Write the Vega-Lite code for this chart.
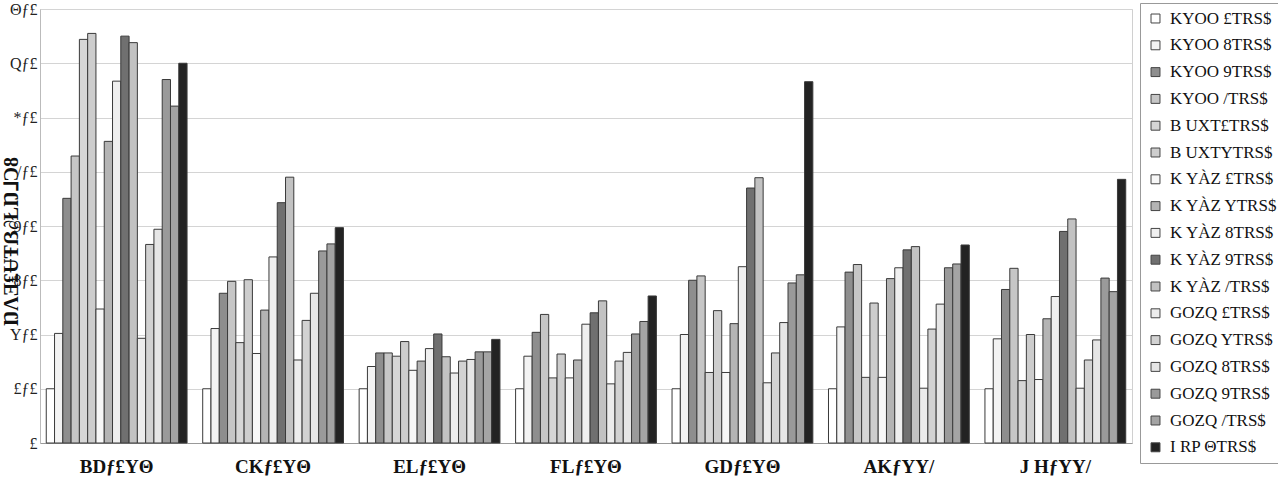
{
  "$schema": "https://vega.github.io/schema/vega-lite/v6.json",
  "autosize": {"type": "none"},
  "width": 1092,
  "height": 434,
  "padding": {"left": 40, "top": 9, "right": 146, "bottom": 37},
  "background": "white",
  "config": {
    "view": {"stroke": "#d0d0d0"},
    "font": "Liberation Serif"
  },
  "data": {"values": [
    {"g":"BDƒ£YΘ","s":"KYOO £TRS$","v":10},{"g":"BDƒ£YΘ","s":"KYOO 8TRS$","v":20.2},{"g":"BDƒ£YΘ","s":"KYOO 9TRS$","v":45.1},{"g":"BDƒ£YΘ","s":"KYOO /TRS$","v":52.9},{"g":"BDƒ£YΘ","s":"B UXT£TRS$","v":74.4},{"g":"BDƒ£YΘ","s":"B UXTYTRS$","v":75.5},{"g":"BDƒ£YΘ","s":"K YÀZ £TRS$","v":24.7},{"g":"BDƒ£YΘ","s":"K YÀZ YTRS$","v":55.6},{"g":"BDƒ£YΘ","s":"K YÀZ 8TRS$","v":66.7},{"g":"BDƒ£YΘ","s":"K YÀZ 9TRS$","v":75},{"g":"BDƒ£YΘ","s":"K YÀZ /TRS$","v":73.8},{"g":"BDƒ£YΘ","s":"GOZQ £TRS$","v":19.3},{"g":"BDƒ£YΘ","s":"GOZQ YTRS$","v":36.6},{"g":"BDƒ£YΘ","s":"GOZQ 8TRS$","v":39.4},{"g":"BDƒ£YΘ","s":"GOZQ 9TRS$","v":67},{"g":"BDƒ£YΘ","s":"GOZQ /TRS$","v":62.1},{"g":"BDƒ£YΘ","s":"I RP ΘTRS$","v":70},
    {"g":"CKƒ£YΘ","s":"KYOO £TRS$","v":10},{"g":"CKƒ£YΘ","s":"KYOO 8TRS$","v":21.1},{"g":"CKƒ£YΘ","s":"KYOO 9TRS$","v":27.6},{"g":"CKƒ£YΘ","s":"KYOO /TRS$","v":29.8},{"g":"CKƒ£YΘ","s":"B UXT£TRS$","v":18.5},{"g":"CKƒ£YΘ","s":"B UXTYTRS$","v":30.1},{"g":"CKƒ£YΘ","s":"K YÀZ £TRS$","v":16.5},{"g":"CKƒ£YΘ","s":"K YÀZ YTRS$","v":24.5},{"g":"CKƒ£YΘ","s":"K YÀZ 8TRS$","v":34.3},{"g":"CKƒ£YΘ","s":"K YÀZ 9TRS$","v":44.3},{"g":"CKƒ£YΘ","s":"K YÀZ /TRS$","v":49},{"g":"CKƒ£YΘ","s":"GOZQ £TRS$","v":15.3},{"g":"CKƒ£YΘ","s":"GOZQ YTRS$","v":22.6},{"g":"CKƒ£YΘ","s":"GOZQ 8TRS$","v":27.6},{"g":"CKƒ£YΘ","s":"GOZQ 9TRS$","v":35.4},{"g":"CKƒ£YΘ","s":"GOZQ /TRS$","v":36.7},{"g":"CKƒ£YΘ","s":"I RP ΘTRS$","v":39.7},
    {"g":"ELƒ£YΘ","s":"KYOO £TRS$","v":10},{"g":"ELƒ£YΘ","s":"KYOO 8TRS$","v":14.1},{"g":"ELƒ£YΘ","s":"KYOO 9TRS$","v":16.6},{"g":"ELƒ£YΘ","s":"KYOO /TRS$","v":16.6},{"g":"ELƒ£YΘ","s":"B UXT£TRS$","v":16},{"g":"ELƒ£YΘ","s":"B UXTYTRS$","v":18.7},{"g":"ELƒ£YΘ","s":"K YÀZ £TRS$","v":13.4},{"g":"ELƒ£YΘ","s":"K YÀZ YTRS$","v":15.1},{"g":"ELƒ£YΘ","s":"K YÀZ 8TRS$","v":17.4},{"g":"ELƒ£YΘ","s":"K YÀZ 9TRS$","v":20.1},{"g":"ELƒ£YΘ","s":"K YÀZ /TRS$","v":15.9},{"g":"ELƒ£YΘ","s":"GOZQ £TRS$","v":12.9},{"g":"ELƒ£YΘ","s":"GOZQ YTRS$","v":15.1},{"g":"ELƒ£YΘ","s":"GOZQ 8TRS$","v":15.4},{"g":"ELƒ£YΘ","s":"GOZQ 9TRS$","v":16.8},{"g":"ELƒ£YΘ","s":"GOZQ /TRS$","v":16.8},{"g":"ELƒ£YΘ","s":"I RP ΘTRS$","v":19.1},
    {"g":"FLƒ£YΘ","s":"KYOO £TRS$","v":10},{"g":"FLƒ£YΘ","s":"KYOO 8TRS$","v":16},{"g":"FLƒ£YΘ","s":"KYOO 9TRS$","v":20.4},{"g":"FLƒ£YΘ","s":"KYOO /TRS$","v":23.7},{"g":"FLƒ£YΘ","s":"B UXT£TRS$","v":12},{"g":"FLƒ£YΘ","s":"B UXTYTRS$","v":16.4},{"g":"FLƒ£YΘ","s":"K YÀZ £TRS$","v":12},{"g":"FLƒ£YΘ","s":"K YÀZ YTRS$","v":15.3},{"g":"FLƒ£YΘ","s":"K YÀZ 8TRS$","v":21.9},{"g":"FLƒ£YΘ","s":"K YÀZ 9TRS$","v":24},{"g":"FLƒ£YΘ","s":"K YÀZ /TRS$","v":26.2},{"g":"FLƒ£YΘ","s":"GOZQ £TRS$","v":10.9},{"g":"FLƒ£YΘ","s":"GOZQ YTRS$","v":15.1},{"g":"FLƒ£YΘ","s":"GOZQ 8TRS$","v":16.7},{"g":"FLƒ£YΘ","s":"GOZQ 9TRS$","v":20.1},{"g":"FLƒ£YΘ","s":"GOZQ /TRS$","v":22.4},{"g":"FLƒ£YΘ","s":"I RP ΘTRS$","v":27.1},
    {"g":"GDƒ£YΘ","s":"KYOO £TRS$","v":10},{"g":"GDƒ£YΘ","s":"KYOO 8TRS$","v":20},{"g":"GDƒ£YΘ","s":"KYOO 9TRS$","v":30},{"g":"GDƒ£YΘ","s":"KYOO /TRS$","v":30.8},{"g":"GDƒ£YΘ","s":"B UXT£TRS$","v":13},{"g":"GDƒ£YΘ","s":"B UXTYTRS$","v":24.4},{"g":"GDƒ£YΘ","s":"K YÀZ £TRS$","v":13},{"g":"GDƒ£YΘ","s":"K YÀZ YTRS$","v":22},{"g":"GDƒ£YΘ","s":"K YÀZ 8TRS$","v":32.5},{"g":"GDƒ£YΘ","s":"K YÀZ 9TRS$","v":47},{"g":"GDƒ£YΘ","s":"K YÀZ /TRS$","v":48.9},{"g":"GDƒ£YΘ","s":"GOZQ £TRS$","v":11.1},{"g":"GDƒ£YΘ","s":"GOZQ YTRS$","v":16.6},{"g":"GDƒ£YΘ","s":"GOZQ 8TRS$","v":22.2},{"g":"GDƒ£YΘ","s":"GOZQ 9TRS$","v":29.5},{"g":"GDƒ£YΘ","s":"GOZQ /TRS$","v":31},{"g":"GDƒ£YΘ","s":"I RP ΘTRS$","v":66.6},
    {"g":"AKƒYY/","s":"KYOO £TRS$","v":10},{"g":"AKƒYY/","s":"KYOO 8TRS$","v":21.4},{"g":"AKƒYY/","s":"KYOO 9TRS$","v":31.5},{"g":"AKƒYY/","s":"KYOO /TRS$","v":32.9},{"g":"AKƒYY/","s":"B UXT£TRS$","v":12.1},{"g":"AKƒYY/","s":"B UXTYTRS$","v":25.8},{"g":"AKƒYY/","s":"K YÀZ £TRS$","v":12.1},{"g":"AKƒYY/","s":"K YÀZ YTRS$","v":30.3},{"g":"AKƒYY/","s":"K YÀZ 8TRS$","v":32.3},{"g":"AKƒYY/","s":"K YÀZ 9TRS$","v":35.6},{"g":"AKƒYY/","s":"K YÀZ /TRS$","v":36.2},{"g":"AKƒYY/","s":"GOZQ £TRS$","v":10.1},{"g":"AKƒYY/","s":"GOZQ YTRS$","v":21},{"g":"AKƒYY/","s":"GOZQ 8TRS$","v":25.6},{"g":"AKƒYY/","s":"GOZQ 9TRS$","v":32.3},{"g":"AKƒYY/","s":"GOZQ /TRS$","v":33},{"g":"AKƒYY/","s":"I RP ΘTRS$","v":36.5},
    {"g":"J HƒYY/","s":"KYOO £TRS$","v":10},{"g":"J HƒYY/","s":"KYOO 8TRS$","v":19.2},{"g":"J HƒYY/","s":"KYOO 9TRS$","v":28.3},{"g":"J HƒYY/","s":"KYOO /TRS$","v":32.2},{"g":"J HƒYY/","s":"B UXT£TRS$","v":11.5},{"g":"J HƒYY/","s":"B UXTYTRS$","v":20},{"g":"J HƒYY/","s":"K YÀZ £TRS$","v":11.7},{"g":"J HƒYY/","s":"K YÀZ YTRS$","v":22.9},{"g":"J HƒYY/","s":"K YÀZ 8TRS$","v":27},{"g":"J HƒYY/","s":"K YÀZ 9TRS$","v":39},{"g":"J HƒYY/","s":"K YÀZ /TRS$","v":41.3},{"g":"J HƒYY/","s":"GOZQ £TRS$","v":10.1},{"g":"J HƒYY/","s":"GOZQ YTRS$","v":15.3},{"g":"J HƒYY/","s":"GOZQ 8TRS$","v":19},{"g":"J HƒYY/","s":"GOZQ 9TRS$","v":30.4},{"g":"J HƒYY/","s":"GOZQ /TRS$","v":27.9},{"g":"J HƒYY/","s":"I RP ΘTRS$","v":48.6}
  ]},
  "mark": {"type": "bar", "stroke": "#3a3a3a", "strokeWidth": 1},
  "encoding": {
    "x": {
      "field": "g", "type": "nominal", "sort": null,
      "scale": {"paddingInner": 0.1, "paddingOuter": 0.04},
      "axis": {"title": null, "labelAngle": 0, "labelFontSize": 19, "labelFontWeight": "bold", "labelColor": "#111", "labelPadding": 14, "ticks": false, "domainColor": "#999", "labelFont": "Liberation Serif"}
    },
    "xOffset": {
      "field": "s", "type": "nominal",
      "scale": {"paddingInner": 0, "paddingOuter": 0, "domain": ["KYOO £TRS$","KYOO 8TRS$","KYOO 9TRS$","KYOO /TRS$","B UXT£TRS$","B UXTYTRS$","K YÀZ £TRS$","K YÀZ YTRS$","K YÀZ 8TRS$","K YÀZ 9TRS$","K YÀZ /TRS$","GOZQ £TRS$","GOZQ YTRS$","GOZQ 8TRS$","GOZQ 9TRS$","GOZQ /TRS$","I RP ΘTRS$"]}
    },
    "y": {
      "field": "v", "type": "quantitative",
      "scale": {"domain": [0, 80], "nice": false},
      "axis": {
        "title": "ŊɅƎ₤ɄŦẞ∂ŁŊ⅃Ɔ8",
        "titleFontSize": 20, "titleColor": "#111", "titleFont": "Liberation Serif", "titleFontWeight": "bold",
        "titleX": -29, "titleY": 232, "titleAngle": -90, "titleAlign": "center", "titleBaseline": "middle",
        "values": [0,10,20,30,40,50,60,70,80],
        "labelExpr": "['£','£ƒ£','Yƒ£','8ƒ£','9ƒ£','/ƒ£','*ƒ£','Qƒ£','Θƒ£'][round(datum.value/10)]",
        "labelFontSize": 16, "labelColor": "#222", "labelPadding": 3, "labelFont": "Liberation Serif",
        "ticks": false, "domain": true, "domainColor": "#bbb",
        "grid": true, "gridColor": "#d4d4d4"
      }
    },
    "color": {
      "field": "s", "type": "nominal",
      "scale": {
        "domain": ["KYOO £TRS$","KYOO 8TRS$","KYOO 9TRS$","KYOO /TRS$","B UXT£TRS$","B UXTYTRS$","K YÀZ £TRS$","K YÀZ YTRS$","K YÀZ 8TRS$","K YÀZ 9TRS$","K YÀZ /TRS$","GOZQ £TRS$","GOZQ YTRS$","GOZQ 8TRS$","GOZQ 9TRS$","GOZQ /TRS$","I RP ΘTRS$"],
        "range": ["#ffffff","#f3f3f3","#8e8e8e","#c6c6c6","#d6d6d6","#cdcdcd","#f7f7f7","#b4b4b4","#efefef","#707070","#c2c2c2","#ececec","#d2d2d2","#e6e6e6","#9a9a9a","#a4a4a4","#232323"]
      },
      "legend": {
        "title": null, "orient": "none", "legendX": 1100, "legendY": -6,
        "symbolType": "square", "symbolSize": 80, "symbolStrokeColor": "#444", "symbolStrokeWidth": 1,
        "labelFontSize": 17, "labelFont": "Liberation Serif", "labelColor": "#111", "labelLimit": 200,
        "rowPadding": 8.8, "padding": 7, "strokeColor": "#999", "fillColor": "white", "symbolOffset": 0, "labelOffset": 6
      }
    }
  }
}
